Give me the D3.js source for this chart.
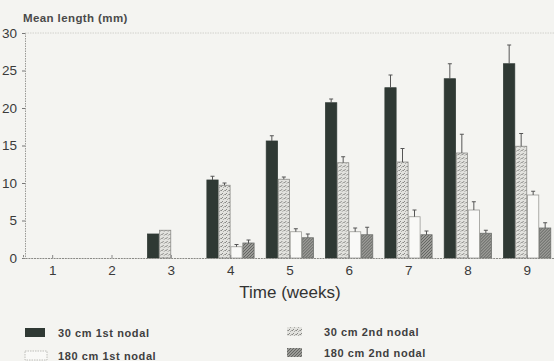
<!DOCTYPE html>
<html>
<head>
<meta charset="utf-8">
<script src="https://cdn.jsdelivr.net/npm/d3@7"></script>
<style>
  html, body { margin: 0; padding: 0; background: #f4f4f1; }
  svg { display: block; font-family: 'Liberation Sans', Arial, sans-serif; }
</style>
</head>
<body>
<div id="chart"></div>
<script>
// values (mean shoot length, mm)
const weeks = [1, 2, 3, 4, 5, 6, 7, 8, 9];
const seriesNames = ['30 cm 1st nodal', '30 cm 2nd nodal', '180 cm 1st nodal', '180 cm 2nd nodal'];
const cm30first = [0, 0, 3.2, 10.4, 15.6, 20.7, 22.7, 23.9, 25.9];
const cm30firstErr = [0, 0, 0, 0.5, 0.7, 0.5, 1.7, 2.0, 2.5];
const cm30second = [0, 0, 3.7, 9.7, 10.5, 12.7, 12.8, 14.0, 14.9];
const cm30secondErr = [0, 0, 0, 0.3, 0.3, 0.8, 1.8, 2.5, 1.7];
const cm180first = [0, 0, 0, 1.5, 3.5, 3.5, 5.5, 6.4, 8.4];
const cm180firstErr = [0, 0, 0, 0.3, 0.4, 0.5, 0.9, 1.1, 0.5];
const cm180second = [0, 0, 0, 2.0, 2.7, 3.1, 3.1, 3.3, 4.0];
const cm180secondErr = [0, 0, 0, 0.4, 0.5, 1.0, 0.5, 0.4, 0.7];
const yTicks = [0, 5, 10, 15, 20, 25, 30];

const values = [cm30first, cm30second, cm180first, cm180second];
const errors = [cm30firstErr, cm30secondErr, cm180firstErr, cm180secondErr];

const width = 554;
const height = 361;

const svg = d3.select('#chart')
  .append('svg')
  .attr('width', width)
  .attr('height', height);

svg.append('rect')
  .attr('width', width)
  .attr('height', height)
  .attr('fill', '#f4f4f1');

// fill patterns imitating the printed screens
const defs = svg.append('defs');
const dots = defs.append('pattern')
  .attr('id', 'dotted')
  .attr('patternUnits', 'userSpaceOnUse')
  .attr('width', 4)
  .attr('height', 4);
dots.append('rect').attr('width', 4).attr('height', 4).attr('fill', '#e2e2de');
dots.append('path').attr('d', 'M0,3 L2,1').attr('stroke', '#7e7e7a').attr('stroke-width', 0.9);
dots.append('path').attr('d', 'M2,4 L4,2').attr('stroke', '#9e9e9a').attr('stroke-width', 0.8);

const hatch = defs.append('pattern')
  .attr('id', 'hatch')
  .attr('patternUnits', 'userSpaceOnUse')
  .attr('width', 3)
  .attr('height', 3);
hatch.append('rect').attr('width', 3).attr('height', 3).attr('fill', '#9a9a96');
hatch.append('path').attr('d', 'M0,3 L3,0 M-1,1 L1,-1 M2,4 L4,2').attr('stroke', '#5c5f5c').attr('stroke-width', 0.9);

const fills = ['#2f3934', 'url(#dotted)', '#f9f9f7', 'url(#hatch)'];
const strokes = ['#2f3934', '#8d8d89', '#9a9a96', '#6e706d'];

const x = d3.scaleBand()
  .domain(weeks)
  .range([23, 557])
  .padding(0);

const xSub = d3.scaleBand()
  .domain(d3.range(seriesNames.length))
  .range([5.5, 53.5])
  .padding(0);

const y = d3.scaleLinear()
  .domain([0, 30])
  .range([258, 33]);

// frame line along the top
svg.append('line')
  .attr('x1', 25).attr('x2', width)
  .attr('y1', y(30)).attr('y2', y(30))
  .attr('stroke', '#c9c9c5')
  .attr('stroke-dasharray', '1.5,1')
  .attr('stroke-width', 0.8);

// y axis
const yAxis = svg.append('g')
  .attr('transform', 'translate(25,0)')
  .call(d3.axisLeft(y).tickValues(yTicks).tickSize(3).tickPadding(3));
yAxis.select('.domain')
  .attr('stroke', '#9a9a96')
  .attr('stroke-dasharray', '1.5,1');
yAxis.selectAll('.tick line').attr('stroke', '#777');
yAxis.selectAll('.tick text')
  .attr('font-size', 13.5)
  .attr('fill', '#3a3a3a')
  .attr('dx', '-2');

// bars
const groups = svg.append('g')
  .selectAll('g')
  .data(weeks)
  .join('g')
  .attr('transform', d => `translate(${x(d)},0)`);

const cells = groups.selectAll('g.cell')
  .data((w, i) => seriesNames.map((name, s) => ({ s, v: values[s][i], e: errors[s][i] })))
  .join('g')
  .attr('class', 'cell');

cells.filter(d => d.v > 0)
  .append('rect')
  .attr('x', d => xSub(d.s) + 0.4)
  .attr('width', xSub.bandwidth() - 0.8)
  .attr('y', d => y(d.v))
  .attr('height', d => y(0) - y(d.v))
  .attr('fill', d => fills[d.s])
  .attr('stroke', d => strokes[d.s])
  .attr('stroke-width', 0.8);

// error bars (upper half only)
const errs = cells.filter(d => d.v > 0 && d.e > 0);
errs.append('line')
  .attr('x1', d => xSub(d.s) + xSub.bandwidth() / 2)
  .attr('x2', d => xSub(d.s) + xSub.bandwidth() / 2)
  .attr('y1', d => y(d.v))
  .attr('y2', d => y(d.v + d.e))
  .attr('stroke', '#555')
  .attr('stroke-width', 1);
errs.append('line')
  .attr('x1', d => xSub(d.s) + xSub.bandwidth() / 2 - 2)
  .attr('x2', d => xSub(d.s) + xSub.bandwidth() / 2 + 2)
  .attr('y1', d => y(d.v + d.e))
  .attr('y2', d => y(d.v + d.e))
  .attr('stroke', '#555')
  .attr('stroke-width', 1);

// x axis
const xAxis = svg.append('g')
  .attr('transform', `translate(0,${y(0)})`)
  .call(d3.axisBottom(x).tickSize(-3).tickPadding(7));
xAxis.select('.domain')
  .attr('stroke', '#8a8a86')
  .attr('stroke-dasharray', '2,0.8');
xAxis.selectAll('.tick line').attr('stroke', '#888');
xAxis.selectAll('.tick text')
  .attr('font-size', 13.5)
  .attr('fill', '#3a3a3a');

// titles
svg.append('text')
  .attr('x', 23)
  .attr('y', 22)
  .attr('font-size', 11.5)
  .attr('font-weight', 'bold')
  .attr('letter-spacing', 0.4)
  .attr('fill', '#4a4a4a')
  .text('Mean length (mm)');

svg.append('text')
  .attr('x', 290)
  .attr('y', 298)
  .attr('text-anchor', 'middle')
  .attr('font-size', 17)
  .attr('fill', '#333')
  .text('Time (weeks)');

// legend
const legendPos = [
  { sx: 25, sw: 20, tx: 58, y: 333 },
  { sx: 287, sw: 15, tx: 324, y: 332 },
  { sx: 25, sw: 22, tx: 58, y: 356 },
  { sx: 287, sw: 15, tx: 324, y: 353 }
];
const legend = svg.append('g')
  .selectAll('g')
  .data(seriesNames)
  .join('g');
legend.append('rect')
  .attr('x', (d, i) => legendPos[i].sx)
  .attr('y', (d, i) => legendPos[i].y - 5)
  .attr('width', (d, i) => legendPos[i].sw)
  .attr('height', 9)
  .attr('fill', (d, i) => fills[i])
  .attr('stroke', (d, i) => i === 2 ? '#b0b0ac' : 'none')
  .attr('stroke-dasharray', (d, i) => i === 2 ? '1.5,1' : null)
  .attr('stroke-width', 0.8);
legend.append('text')
  .attr('x', (d, i) => legendPos[i].tx)
  .attr('y', (d, i) => legendPos[i].y + 4)
  .attr('font-size', 11)
  .attr('font-weight', 'bold')
  .attr('letter-spacing', 0.6)
  .attr('fill', '#3f3f3f')
  .text(d => d);
</script>
</body>
</html>
